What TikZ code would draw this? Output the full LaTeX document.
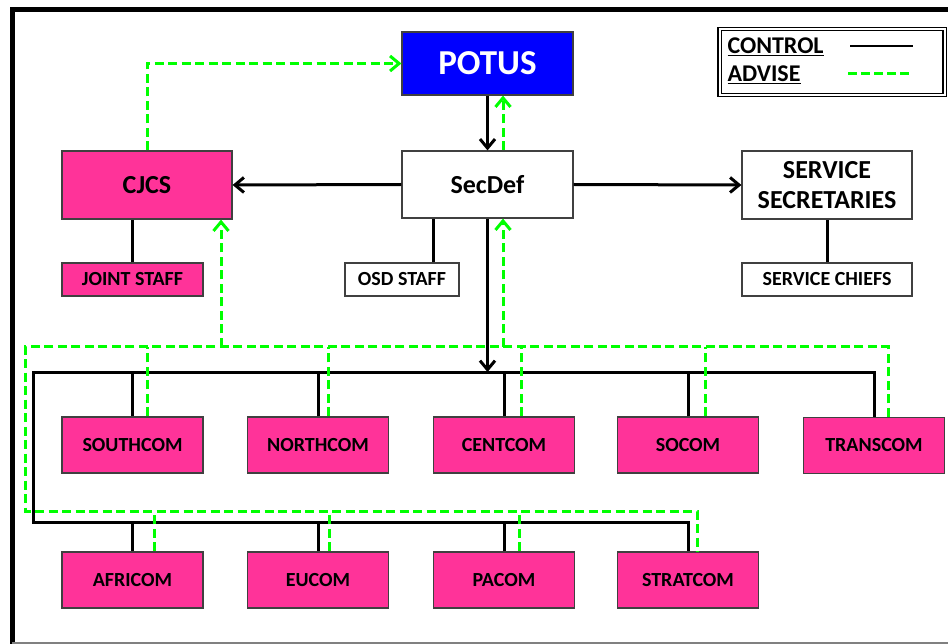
\documentclass[tikz,border=0pt]{standalone}
\usepackage{fontspec}
\setmainfont{Carlito}
\usetikzlibrary{arrows.meta, positioning, calc}
\definecolor{CmdPink}{HTML}{FF3399}
\definecolor{PotusBlue}{HTML}{0000FF}
\definecolor{AdvGreen}{HTML}{00FF00}
\definecolor{EdgeGray}{HTML}{404040}
\tikzset{
    orgbox/.style={rectangle, draw=EdgeGray, line width=1.2pt, align=center,
                   inner sep=0pt, font=\bfseries\fontsize{20}{24}\selectfont},
    cmdbox/.style={orgbox, fill=CmdPink, minimum width=141pt, minimum height=56pt},
    staffbox/.style={orgbox, minimum height=33pt},
    topbox/.style={orgbox, minimum width=171pt, minimum height=67pt,
                   font=\bfseries\fontsize{26}{30}\selectfont},
    control/.style={line width=3pt, black},
    advise/.style={line width=3pt, AdvGreen, dash pattern=on 9pt off 4.5pt},
    barb/.style={-{Straight Barb[length=9pt,width=15pt]}}
}

\begin{document}
\begin{tikzpicture}[x=1pt, y=-1pt]
    \useasboundingbox (0,0) rectangle (948,644);

    % Frame
    \draw[line width=5pt] (12,650) -- (12,9.5) -- (955,9.5);
    \draw[gray, line width=1.5pt] (12,643) -- (955,643);

    % Top of the chain
    \node[topbox, fill=PotusBlue, text=white, minimum height=63pt,
          font=\bfseries\fontsize{35}{40}\selectfont] (potus) at (487.5,63.5) {POTUS};
    \node[topbox, fill=white] (secdef) at (487.5,184.5) {SecDef};
    \node[topbox, fill=CmdPink, minimum width=170pt, minimum height=68pt] (cjcs) at (147,185) {CJCS};
    \node[topbox, fill=white, minimum width=170pt, minimum height=68pt] (sersec) at (827,185) {SERVICE\\SECRETARIES};

    % Staffs
    \node[staffbox, fill=CmdPink, minimum width=141pt] (jstaff) at (132.5,279.5) {JOINT STAFF};
    \node[staffbox, fill=white, minimum width=114pt] (osd) at (402,279.5) {OSD STAFF};
    \node[staffbox, fill=white, minimum width=170pt] (chiefs) at (827,279.5) {SERVICE CHIEFS};

    % Combatant commands
    \node[cmdbox] (southcom) at (132.5,445) {SOUTHCOM};
    \node[cmdbox] (northcom) at (318,445) {NORTHCOM};
    \node[cmdbox] (centcom) at (504,445) {CENTCOM};
    \node[cmdbox] (socom) at (688,445) {SOCOM};
    \node[cmdbox] (transcom) at (874,445.5) {TRANSCOM};
    \node[cmdbox] (africom) at (132.5,580) {AFRICOM};
    \node[cmdbox] (eucom) at (318,580) {EUCOM};
    \node[cmdbox] (pacom) at (504,580) {PACOM};
    \node[cmdbox] (stratcom) at (688,580) {STRATCOM};

    % Legend
    \node[draw, double, double distance=2pt, line width=1.2pt, minimum width=225pt,
          minimum height=66pt] (legend) at (832,62) {};
    \node[anchor=west, font=\bfseries\fontsize{24}{28}\selectfont] (ctltext) at (724,47) {\underline{CONTROL}};
    \node[anchor=west, font=\bfseries\fontsize{24}{28}\selectfont] (advtext) at (724,75) {\underline{ADVISE}};
    \coordinate (ctlA) at (850,46);
    \coordinate (ctlB) at (913,46);
    \coordinate (advA) at (848,74);
    \coordinate (advB) at (912,74);
    \draw[line width=2pt] (ctlA) -- (ctlB);
    \draw[AdvGreen, line width=3pt, dash pattern=on 9pt off 4pt] (advA) -- (advB);

    % Bus corners
    \coordinate (ctrlTop) at (33,372);
    \coordinate (ctrlBot) at (33,522);
    \coordinate (advTop) at (25,347);
    \coordinate (advBot) at (25,511);

    % Control lines
    \draw[control, barb] (potus) -- (secdef);
    \draw[control, barb] (secdef.west) -- (cjcs.east);
    \draw[control, barb] (secdef.east) -- (sersec.west);
    \draw[control] (jstaff.north) -- (jstaff.north |- cjcs.south);
    \draw[control] ([xshift=31pt]osd.north) -- ([xshift=31pt]osd.north |- secdef.south);
    \draw[control] (chiefs.north) -- (chiefs.north |- sersec.south);
    \draw[control] (transcom.north) |- (ctrlTop) -- (ctrlBot) -| (stratcom.north);
    \draw[control, barb] (secdef.south) -- (secdef.south |- ctrlTop);
    \foreach \cmd in {southcom, northcom, centcom, socom}
        \draw[control] (\cmd.north) -- (\cmd.north |- ctrlTop);
    \foreach \cmd in {africom, eucom, pacom}
        \draw[control] (\cmd.north) -- (\cmd.north |- ctrlBot);

    % Advise lines
    \draw[advise, barb] (cjcs.north) |- (potus.west);
    \draw[advise, barb] ([xshift=15.5pt]secdef.north) -- ([xshift=15.5pt]potus.south);
    \draw[advise] ([xshift=14pt]transcom.north) |- (advTop) -- (advBot) -| ([xshift=9pt]stratcom.north);
    \draw[advise, barb] ([xshift=74pt]cjcs.south |- advTop) -- ([xshift=74pt]cjcs.south);
    \draw[advise, barb] ([xshift=15.5pt]secdef.south |- advTop) -- ([xshift=15.5pt]secdef.south);
    \foreach \cmd/\dx in {southcom/15, northcom/10, centcom/17, socom/17}
        \draw[advise] ([xshift=\dx pt]\cmd.north) -- ([xshift=\dx pt]\cmd.north |- advTop);
    \foreach \cmd/\dx in {africom/22, eucom/11, pacom/15}
        \draw[advise] ([xshift=\dx pt]\cmd.north) -- ([xshift=\dx pt]\cmd.north |- advBot);
\end{tikzpicture}
\end{document}
